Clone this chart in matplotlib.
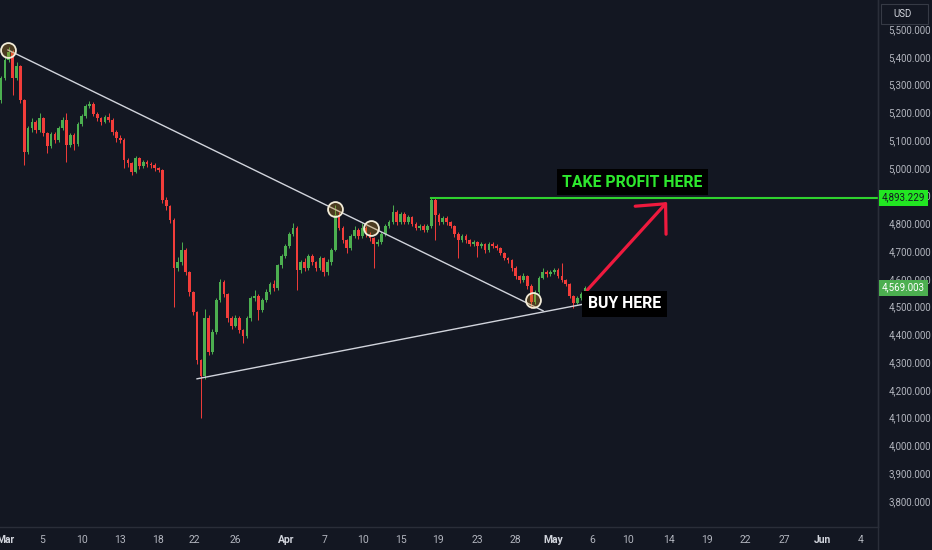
import matplotlib
matplotlib.use("Agg")
import matplotlib.pyplot as plt
from matplotlib.lines import Line2D
from matplotlib.patches import Rectangle
import numpy as np

plt.rcParams['font.family'] = ['Roboto', 'DejaVu Sans']

# candle data (one bar per step)
first_open = 5245
closes = [5324, 5389, 5418, 5324, 5368, 5245, 5058, 5144, 5166, 5137,
          5180, 5126, 5079, 5122, 5101, 5144, 5173, 5083, 5119, 5086,
          5159, 5187, 5223, 5231, 5195, 5180, 5166, 5184, 5173, 5130,
          5108, 5101, 5029, 5018, 4986, 5036, 5007, 5022, 5014, 5011,
          5000, 4993, 4885, 4863, 4813, 4640, 4661, 4704, 4625, 4553,
          4481, 4308, 4250, 4459, 4337, 4409, 4524, 4589, 4546, 4459,
          4431, 4459, 4416, 4394, 4459, 4531, 4539, 4488, 4524, 4553,
          4582, 4567, 4650, 4683, 4719, 4762, 4784, 4632, 4661, 4640,
          4683, 4661, 4640, 4676, 4625, 4661, 4704, 4831, 4784, 4740,
          4712, 4755, 4777, 4755, 4784, 4762, 4748, 4726, 4733, 4762,
          4791, 4805, 4841, 4805, 4834, 4805, 4823, 4798, 4784, 4791,
          4777, 4791, 4885, 4831, 4805, 4820, 4805, 4791, 4762, 4740,
          4755, 4740, 4726, 4733, 4719, 4726, 4704, 4726, 4719, 4712,
          4694, 4676, 4668, 4640, 4611, 4596, 4611, 4575, 4517, 4553,
          4604, 4625, 4618, 4625, 4632, 4611, 4596, 4582, 4539, 4513,
          4531, 4546, 4569]
highs = [5330, 5400, 5436, 5425, 5380, 5372, 5250, 5150, 5180, 5172,
         5198, 5185, 5130, 5130, 5128, 5150, 5182, 5198, 5125, 5124,
         5165, 5195, 5230, 5241, 5236, 5200, 5185, 5192, 5198, 5178,
         5135, 5119, 5106, 5035, 5022, 5042, 5040, 5030, 5028, 5020,
         5016, 5004, 4996, 4895, 4868, 4818, 4680, 4733, 4710, 4630,
         4558, 4486, 4312, 4490, 4470, 4420, 4530, 4600, 4595, 4550,
         4465, 4470, 4465, 4420, 4465, 4540, 4560, 4545, 4530, 4565,
         4590, 4596, 4655, 4690, 4726, 4770, 4802, 4790, 4668, 4675,
         4690, 4690, 4665, 4684, 4680, 4670, 4712, 4867, 4840, 4790,
         4745, 4762, 4790, 4784, 4800, 4790, 4768, 4752, 4745, 4770,
         4798, 4813, 4867, 4848, 4841, 4840, 4831, 4828, 4805, 4798,
         4798, 4798, 4895, 4890, 4838, 4828, 4826, 4810, 4796, 4768,
         4762, 4760, 4745, 4740, 4738, 4733, 4730, 4733, 4733, 4724,
         4716, 4698, 4680, 4672, 4645, 4615, 4620, 4615, 4580, 4560,
         4612, 4640, 4632, 4632, 4640, 4638, 4658, 4600, 4586, 4542,
         4538, 4553, 4575]
lows = [5235, 5315, 5380, 5263, 5315, 5235, 5010, 5050, 5130, 5125,
        5130, 5115, 5054, 5070, 5090, 5095, 5138, 5022, 5075, 5065,
        5080, 5150, 5180, 5215, 5188, 5170, 5155, 5160, 5165, 5120,
        5095, 5090, 5000, 5005, 4975, 4980, 4995, 5000, 5005, 5000,
        4990, 4985, 4875, 4850, 4800, 4499, 4630, 4650, 4615, 4540,
        4470, 4295, 4099, 4240, 4325, 4330, 4400, 4515, 4535, 4445,
        4420, 4425, 4405, 4369, 4388, 4450, 4520, 4452, 4480, 4515,
        4545, 4555, 4560, 4640, 4675, 4710, 4755, 4560, 4620, 4630,
        4632, 4650, 4630, 4632, 4610, 4615, 4650, 4700, 4775, 4730,
        4694, 4705, 4748, 4745, 4748, 4752, 4738, 4640, 4718, 4726,
        4755, 4784, 4798, 4796, 4798, 4798, 4798, 4790, 4775, 4777,
        4770, 4770, 4784, 4740, 4795, 4798, 4795, 4782, 4752, 4676,
        4733, 4730, 4718, 4720, 4679, 4712, 4694, 4698, 4710, 4704,
        4686, 4668, 4658, 4630, 4600, 4586, 4590, 4565, 4495, 4510,
        4546, 4598, 4608, 4612, 4618, 4604, 4590, 4575, 4530, 4495,
        4508, 4524, 4540]
first_bar = -1

# drawings (bar index, price)
resist_line = [(0.78, 5425), (140.1, 4485)]
support_line = [(50.0, 4240), (151.0, 4510)]
touch_points = [(0.78, 5425), (85.9, 4852), (95.3, 4784), (137.5, 4524)]
target_price = 4893.229
target_start = 110.9
last_price = 4569.003
arrow_from = (151.6, 4560)
arrow_to = (172.4, 4877)
tp_label = (163.4, 4949, "TAKE PROFIT HERE")
buy_label = (161.3, 4511, "BUY HERE")

price_ticks = list(range(3800, 5600, 100))
date_pos = [0.2, 9.8, 20, 30, 39.8, 49.2, 60, 73.2, 83.3, 93.2, 103.1, 112.8,
            122.9, 132.8, 142.7, 152.9, 162.2, 172.9, 182.8, 192.7, 202.9,
            212.8, 222.7]
date_labels = ["Mar", "5", "10", "13", "18", "22", "26", "Apr", "7", "10",
               "15", "19", "23", "28", "May", "6", "10", "14", "19", "22",
               "27", "Jun", "4"]
month_labels = {"Mar", "Apr", "May", "Jun"}

bg = '#131722'
up_col = '#4caf50'
down_col = '#f23d3a'
txt_col = '#b2b5be'
line_col = '#2a2e39'

W, H = 932, 550
ax_left, ax_bottom, ax_w, ax_h = 0, 23 / H, 878 / W, 527 / H
ymin, ymax = 3706, 5605

fig = plt.figure(figsize=(W / 100, H / 100), dpi=100, facecolor=bg)
ax = fig.add_axes([ax_left, ax_bottom, ax_w, ax_h])
ax.set_facecolor(bg)

opens = [first_open] + closes[:-1]
xs = np.arange(first_bar, first_bar + len(closes))
o = np.array(opens, dtype=float)
c = np.array(closes, dtype=float)
cols = [up_col if cc >= oo else down_col for oo, cc in zip(o, c)]

ax.vlines(xs, lows, highs, colors=cols, linewidth=0.7, zorder=2)
bottoms = np.minimum(o, c)
heights = np.maximum(np.abs(c - o), 2)
ax.bar(xs, heights, bottom=bottoms, width=0.7, color=cols, linewidth=0, zorder=3)

# trend lines
ax.plot([p[0] for p in resist_line], [p[1] for p in resist_line],
        color='#d1d4dc', lw=1.0, zorder=4)
ax.plot([p[0] for p in support_line], [p[1] for p in support_line],
        color='#d1d4dc', lw=1.0, zorder=4)
ax.scatter([p[0] for p in touch_points], [p[1] for p in touch_points],
           s=115, facecolor=(0.78, 0.55, 0.13, 0.32), edgecolor='#f2ecd9',
           linewidth=1.3, zorder=5)

# target line
ax.plot([target_start, 240], [target_price, target_price], color='#2fd12f',
        lw=1.5, zorder=4)

ax.annotate('', xy=arrow_to, xytext=arrow_from,
            arrowprops=dict(arrowstyle='->,head_length=1.6,head_width=1.5',
                            color='#ef1a3e', lw=2.3, shrinkA=0, shrinkB=0,
                            mutation_scale=10), zorder=6)

ax.text(tp_label[0], tp_label[1], tp_label[2], ha='center', va='center',
        fontsize=11.3, fontweight='bold', color='#2ee82e', zorder=7,
        bbox=dict(boxstyle='square,pad=0.35', fc='#000000', ec='none'))
ax.text(buy_label[0], buy_label[1], buy_label[2], ha='center', va='center',
        fontsize=11.3, fontweight='bold', color='white', zorder=7,
        bbox=dict(boxstyle='square,pad=0.35', fc='#000000', ec='none'))

ax.set_xlim(-1.30, 227.3)
ax.set_ylim(ymin, ymax)

ax.yaxis.tick_right()
ax.set_yticks(price_ticks)
ax.set_yticklabels([f"{v:,.3f}" for v in price_ticks])
ax.tick_params(axis='y', length=0, pad=7.5, labelsize=7, labelcolor=txt_col)
ax.set_xticks(date_pos)
ax.set_xticklabels(date_labels)
ax.tick_params(axis='x', length=0, pad=6, labelsize=7.5, labelcolor=txt_col)
for lab in ax.get_xticklabels():
    if lab.get_text() in month_labels:
        lab.set_fontweight('bold')
        lab.set_color('#d1d4dc')

for side in ['top', 'left']:
    ax.spines[side].set_visible(False)
for side in ['right', 'bottom']:
    ax.spines[side].set_color(line_col)
    ax.spines[side].set_linewidth(1)
fig.add_artist(Line2D([878 / W, 878 / W], [0, 1], color=line_col, lw=1))


def price_to_fig(p):
    return ax_bottom + (p - ymin) / (ymax - ymin) * ax_h


# price labels on the axis
for p, fc, tc in [(target_price, '#22e622', '#131722'),
                  (last_price, '#4caf50', 'white')]:
    yf = price_to_fig(p)
    fig.add_artist(Rectangle((879 / W, yf - 8 / H), 49 / W, 16 / H,
                             transform=fig.transFigure, fc=fc, ec='none',
                             zorder=10))
    fig.text(903.5 / W, yf, f"{p:,.3f}", ha='center', va='center',
             fontsize=7, color=tc, zorder=11)

fig.add_artist(Rectangle((881 / W, 1 - 24 / H), 47 / W, 20 / H,
                         transform=fig.transFigure, fc='#131722',
                         ec='#363a45', lw=0.8, zorder=10))
fig.text(893 / W, 1 - 14 / H, "USD", ha='left', va='center', fontsize=7,
         color='#d1d4dc', zorder=11)

fig.savefig("out.png", dpi=100, facecolor=bg)
